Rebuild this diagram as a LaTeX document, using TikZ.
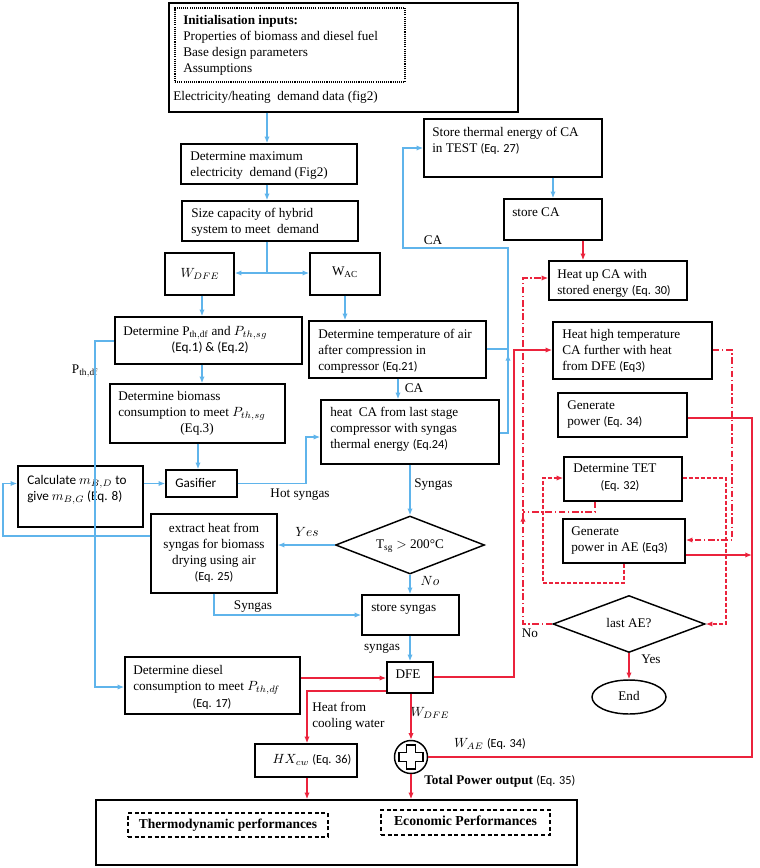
\documentclass[tikz,border=0pt]{standalone}
\usepackage{fontspec}
\setmainfont{Liberation Serif}
\newfontfamily\eqf{Carlito}
\usetikzlibrary{arrows.meta,fit,shapes.geometric}
\definecolor{cblue}{RGB}{95,180,235}
\definecolor{cred}{RGB}{235,35,60}
\newcommand\myeq[1]{{\eqf\fontsize{9.2}{12}\selectfont #1}}
\newcommand\fsz{\fontsize{9.9}{12}\selectfont}
\begin{document}
\begin{tikzpicture}[x=0.75pt,y=-0.75pt,
 box/.style={draw=black,line width=1.1pt,inner sep=0pt},
 tl/.style={anchor=base west,inner sep=0pt,align=left,font=\fsz},
 tc/.style={anchor=base,inner sep=0pt,align=center,font=\fsz},
 lb/.style={inner sep=0pt,font=\fsz,text height=7pt,text depth=2pt},
 bl/.style={draw=cblue,line width=1.1pt},
 bla/.style={bl,-{Latex[length=5pt,width=4pt]}},
 rd/.style={draw=cred,line width=1.3pt},
 rda/.style={rd,-{Latex[length=5pt,width=4pt]}},
 ddot/.style={draw=cred,line width=1.1pt,dash pattern=on 5pt off 2pt on 1pt off 2pt},
 dsh/.style={draw=cred,line width=1.1pt,dash pattern=on 3pt off 1.5pt},
 arr/.style={-{Latex[length=5pt,width=4pt]}},
]
\useasboundingbox (0,0) rectangle (760,868);

% ---------------- boxes ----------------
\node[box,fit={(169,3)(518,112)}] (top) {};
\node[draw=black,line width=1pt,dash pattern=on 0.8pt off 0.8pt,inner sep=0pt,fit={(175,8)(405,82)}] (dotbox) {};
\node[tl] (t1) at (183,72) {\textbf{Initialisation inputs:}\\Properties of biomass and diesel fuel\\Base design parameters\\Assumptions};
\node[tl] (t2) at (173,100) {Electricity/heating\ \ demand data (fig2)};

\node[box,fit={(181,144)(357,184)}] (maxd) {};
\node[tl] (t3) at (190,176) {Determine maximum\\electricity\ \ demand (Fig2)};
\node[box,fit={(182,201)(358,241)}] (size) {};
\node[tl] (t4) at (191,233) {Size capacity of hybrid\\system to meet\ \ demand};
\node[box,fit={(165,253)(234,295)}] (wdfe) {};
\node[lb] (t5) at (200,274) {$W_{DFE}$};
\node[box,fit={(310,253)(380,295)}] (wac) {};
\node[lb] (t6) at (345,272) {W$_{\mathrm{AC}}$};

\node[box,fit={(424,119)(602,177)}] (store) {};
\node[tl] (t7) at (432,152) {Store thermal energy of CA\\in TEST \myeq{(Eq. 27)}};
\node[box,fit={(504,199)(602,240)}] (storeca) {};
\node[tl] (t8) at (512,216) {store CA};
\node[box,fit={(549,261)(687,300)}] (heatup) {};
\node[tl] (t9) at (557,294) {Heat up CA with\\stored energy \myeq{(Eq. 30)}};

\node[box,fit={(115,317)(302,364)}] (pth) {};
\node[tl] (t10) at (123,335) {Determine P$_{\mathrm{th,df}}$ and $P_{th,sg}$};
\node[tc] (t11) at (210,351) {\eqf (Eq.1) \& (Eq.2)};
\node[box,fit={(309,321)(486,378)}] (dtemp) {};
\node[tl] (t12) at (318,370) {Determine temperature of air\\after compression in\\compressor \myeq{(Eq.21)}};
\node[box,fit={(110,384)(285,443)}] (bio) {};
\node[tl] (t13) at (118,416) {Determine biomass\\consumption to meet $P_{th,sg}$};
\node[tc] (t14) at (197,432) {(Eq.3)};
\node[box,fit={(321,400)(499,464)}] (heatca) {};
\node[tl] (t15) at (330,448) {heat\ \ CA from last stage\\compressor with syngas\\thermal energy \myeq{(Eq.24)}};

\node[box,fit={(553,322)(712,379)}] (hhigh) {};
\node[tl] (t16) at (562,370) {Heat high temperature\\CA further with heat\\from DFE \myeq{(Eq3)}};
\node[box,fit={(558,393)(687,437)}] (genp) {};
\node[tl] (t17) at (567,425) {Generate\\power \myeq{(Eq. 34)}};

\node[box,fit={(18,466)(143,527)}] (calc) {};
\node[tl,font=\eqf\fsz] (t18) at (27,500) {Calculate $m_{B,D}$ to\\give $m_{B,G}$ (Eq. 8)};
\node[box,fit={(166,470)(237,497)}] (gas) {};
\node[tl,font=\eqf\fsz] (t19) at (175,487) {Gasifier};

\node[box,fit={(564,457)(682,501)}] (tet) {};
\node[tl] (t20) at (573,472) {Determine TET};
\node[tc] (t21) at (620,489) {\myeq{(Eq. 32)}};
\node[box,fit={(563,519)(685,563)}] (aep) {};
\node[tl] (t22) at (571,551) {Generate\\power in AE \myeq{(Eq3)}};

\node[box,fit={(151,514)(277,593)}] (ext) {};
\node[tc] (t23) at (214,580) {extract heat from\\syngas for biomass\\drying using air\\\myeq{(Eq. 25)}};
\node[draw=black,line width=1.1pt,diamond,minimum width=111.75pt,minimum height=43.5pt,inner sep=0pt] (dia) at (410,545) {};
\node[lb] (t24) at (410,545) {T$_{\mathrm{sg}}$ $>$ 200°C};
\node[box,fit={(362,595)(459,635)}] (ssg) {};
\node[tl] (t25) at (371,611) {store syngas};

\node[draw=black,line width=1.1pt,diamond,minimum width=114pt,minimum height=42.75pt,inner sep=0pt] (lae) at (629,624) {};
\node[lb] (t26) at (629,624) {last AE?};
\node[draw=black,line width=1.1pt,ellipse,minimum width=55.5pt,minimum height=25.5pt,inner sep=0pt] (end) at (629,697) {};
\node[lb] (t27) at (629,697) {End};

\node[box,fit={(387,662)(433,693)}] (dfe) {};
\node[lb] (t28) at (408,675) {DFE};
\node[box,fit={(125,657)(300,714)}] (dd) {};
\node[tl] (t29) at (133,690) {Determine diesel\\consumption to meet $P_{th,df}$};
\node[tc] (t30) at (212,707) {\myeq{(Eq. 17)}};
\node[box,fit={(255,744)(357,777)}] (hx) {};
\node[lb] (t31) at (312,760) {$HX_{cw}$ \myeq{(Eq. 36)}};

\node[draw=black,line width=1.1pt,circle,minimum size=24.75pt,inner sep=0pt] (plus) at (411,757) {};
\draw[line width=1.1pt] (406.5,745) -- (415.5,745) -- (415.5,752.5) -- (423,752.5) -- (423,761.5) -- (415.5,761.5) -- (415.5,769) -- (406.5,769) -- (406.5,761.5) -- (399,761.5) -- (399,752.5) -- (406.5,752.5) -- cycle;

\node[box,fit={(96,800)(577,865)}] (bot) {};
\node[draw=black,line width=1.1pt,dash pattern=on 3pt off 2pt,inner sep=0pt,fit={(128,813)(328,837)}] (thermo) {};
\node[lb,font=\fontsize{10.1}{12}\selectfont\bfseries] (t32) at (thermo.center) {Thermodynamic performances};
\node[draw=black,line width=1.1pt,dash pattern=on 3pt off 2pt,inner sep=0pt,fit={(381,810)(550,835)}] (eco) {};
\node[lb,font=\fontsize{10.3}{12}\selectfont\bfseries] (t33) at (eco.center) {Economic Performances};

% ---------------- labels ----------------
\node[lb] (lca1) at (433,241) {CA};
\node[lb] (lca2) at (414,389) {CA};
\node[lb] (lpth) at (85,370) {P$_{\mathrm{th,df}}$};
\node[lb] (lhot) at (300,494) {Hot syngas};
\node[lb,anchor=west] (lsg1) at (414,484) {Syngas};
\node[lb] (lyes) at (307,533) {$Yes$};
\node[lb] (lno) at (430,582) {$No$};
\node[lb] (lsg2) at (253,606) {Syngas};
\node[lb] (lsg3) at (382,647) {syngas};
\node[lb] (lno2) at (530,634) {No};
\node[lb] (lyes2) at (651,660) {Yes};
\node[tl] (lheat) at (312,727.5) {Heat from\\cooling water};
\node[lb] (lwdfe) at (430,713) {$W_{DFE}$};
\node[lb] (lwae) at (490,744) {$W_{AE}$ \myeq{(Eq. 34)}};
\node[lb,anchor=west] (ltot) at (424,781) {\textbf{Total Power output} \myeq{(Eq. 35)}};

% ---------------- blue connectors ----------------
\draw[bla] (top.south -| 267,0) -- (maxd.north -| 267,0);
\draw[bla] (maxd.south -| 267,0) -- (size.north -| 267,0);
\draw[bl] (size.south -| 267,0) -- (267,273) coordinate (split);
\draw[bla] (split) -- (wdfe.east |- split);
\draw[bla] (split) -- (wac.west |- split);
\draw[bla] (wdfe.south -| 202,0) -- (pth.north -| 202,0);
\draw[bla] (wac.south) -- (dtemp.north -| wac.south);
\draw[bla] (pth.south -| 202,0) -- (bio.north -| 202,0);
\draw[bla] (bio.south -| 198,0) -- (gas.north -| 198,0);
\draw[bla] (pth.west |- 0,341) -| (95,687) -- (dd.west |- 0,687);
\draw[bla] (dtemp.south -| 398,0) -- (heatca.north -| 398,0);
\draw[bla] (gas.east) -| (306,437) -- (heatca.west |- 0,437);
\draw[bla] (calc.east |- gas.east) -- (gas.west);
\draw[bla] (ext.west |- 0,536) -| (3,483.5) -- (calc.west |- 0,483.5);
\draw[bla] (heatca.east |- 0,433) -| (508,248) -| (403,148) -- (store.west |- 0,148);
\draw[bla] (508,362) -- (508,354);
\draw[bl] (dtemp.east |- 0,349) -- (508,349);
\draw[bla] (store.south -| 553,0) -- (storeca.north -| 553,0);
\draw[bla] (heatca.south -| dia.north) -- (dia.north);
\draw[bla] (dia.west) -- (ext.east |- dia.west);
\draw[bla] (dia.south) -- (ssg.north -| dia.south);
\draw[bla] (ext.south -| 214,0) |- (ssg.west |- 0,615);
\draw[bla] (ssg.south -| 410,0) -- (dfe.north -| 410,0);

% ---------------- red connectors ----------------
\draw[rda] (storeca.south -| 583,0) -- (heatup.north -| 583,0);
\draw[rda] (dd.east |- 0,678) -- (dfe.west |- 0,678);
\draw[rda] (dfe.east |- 0,677) -| (514,350) -- (hhigh.west |- 0,350);
\draw[rda] (dfe.west |- 0,691) -| (hx.north -| 307,0);
\draw[rda] (dfe.south -| plus.north) -- (plus.north);
\draw[rd] (plus.east) -| (752,418) -- (genp.east |- 0,418);
\draw[rda] (aep.east |- 0,555) -- (752,555);
\draw[rda] (plus.south) -- (bot.north -| plus.south);
\draw[rda] (hx.south -| 307,0) -- (bot.north -| 307,0);
\draw[rda] (lae.south) -- (end.north);

\draw[ddot,arr] (lae.west) -| (523,278) -- (heatup.west |- 0,278);
\draw[ddot,arr] (523,523) -- (523,515);
\draw[ddot] (tet.south -| 595,0) |- (523,512);
\draw[ddot,arr] (hhigh.east |- 0,350) -| (732,540) -- (aep.east |- 0,540);
\draw[dsh,arr] (aep.south -| 624,0) |- (543,583) |- (tet.west |- 0,478);
\draw[dsh,arr] (tet.east |- 0,478) -| (726,624) -- (lae.east);
\end{tikzpicture}
\end{document}
